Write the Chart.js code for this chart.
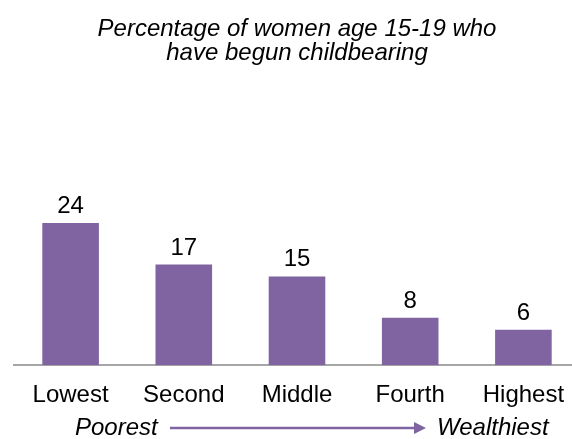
<!DOCTYPE html>
<html>
<head>
<meta charset="utf-8">
<script src="https://cdn.jsdelivr.net/npm/chart.js@4"></script>
<style>
  html, body { margin: 0; padding: 0; background: #fff; overflow: hidden; }
  #wrap { width: 600px; height: 439px; }
</style>
</head>
<body>
<div id="wrap"><canvas id="chart" width="600" height="439"></canvas></div>
<script>
// chart data
const categories = ["Lowest", "Second", "Middle", "Fourth", "Highest"];
const percentages = [24, 17, 15, 8, 6];
const titleLines = ["Percentage of women age 15-19 who", "have begun childbearing"];
const lowLabel = "Poorest";
const highLabel = "Wealthiest";

const purple = "#8064A2";
const fontFamily = "'Liberation Sans', Arial, sans-serif";

// value labels above each bar
const valueLabels = {
    id: "valueLabels",
    afterDatasetsDraw(chart) {
        const ctx = chart.ctx;
        const meta = chart.getDatasetMeta(0);
        ctx.save();
        ctx.font = "24px " + fontFamily;
        ctx.fillStyle = "#000";
        ctx.textAlign = "center";
        ctx.textBaseline = "alphabetic";
        meta.data.forEach((bar, i) => {
            ctx.fillText(percentages[i], bar.x, bar.y - 10);
        });
        ctx.restore();
    }
};

// "Poorest ---> Wealthiest" line under the categories
const wealthArrow = {
    id: "wealthArrow",
    afterDraw(chart) {
        const ctx = chart.ctx;
        const y = chart.height - 11;
        ctx.save();
        ctx.font = "italic 24px " + fontFamily;
        ctx.fillStyle = "#000";
        ctx.textBaseline = "middle";
        ctx.textAlign = "left";
        ctx.fillText(lowLabel, 75, y);
        ctx.fillText(highLabel, 437, y);

        ctx.strokeStyle = purple;
        ctx.lineWidth = 2.5;
        ctx.beginPath();
        ctx.moveTo(170, y);
        ctx.lineTo(420, y);
        ctx.stroke();
        ctx.fillStyle = purple;
        ctx.beginPath();
        ctx.moveTo(426, y);
        ctx.lineTo(414, y - 6);
        ctx.lineTo(414, y + 6);
        ctx.closePath();
        ctx.fill();
        ctx.restore();
    }
};

new Chart(document.getElementById("chart"), {
    type: "bar",
    data: {
        labels: categories,
        datasets: [{
            data: percentages,
            backgroundColor: purple,
            borderWidth: 0,
            categoryPercentage: 1,
            barPercentage: 0.5
        }]
    },
    options: {
        responsive: false,
        animation: false,
        layout: {
            padding: { left: 14, right: 20, top: 0, bottom: 13 }
        },
        plugins: {
            legend: { display: false },
            tooltip: { enabled: false },
            title: {
                display: true,
                text: titleLines,
                color: "#000",
                font: { family: fontFamily, size: 24, style: "italic", weight: "normal", lineHeight: 1.0 },
                padding: { top: 17, bottom: 93 }
            }
        },
        scales: {
            x: {
                grid: { display: false, drawTicks: false },
                border: { display: true, color: "#A6A6A6", width: 2 },
                ticks: {
                    color: "#000",
                    font: { family: fontFamily, size: 24 },
                    padding: 16,
                    maxRotation: 0
                }
            },
            y: {
                display: false,
                min: 0,
                max: 35
            }
        }
    },
    plugins: [valueLabels, wealthArrow]
});
</script>
</body>
</html>
